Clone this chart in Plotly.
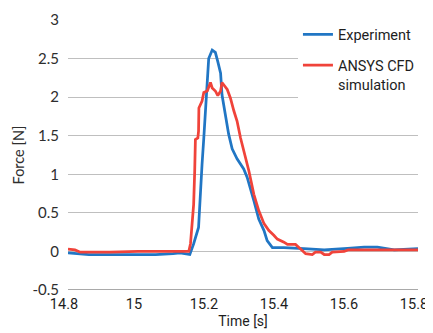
import plotly.graph_objects as go

# Experiment (blue)
exp_time = [14.80, 14.86, 14.96, 15.006, 15.05, 15.10, 15.12, 15.148, 15.159, 15.173,
            15.178, 15.183, 15.188, 15.193, 15.202, 15.212, 15.221, 15.228, 15.236, 15.240,
            15.250, 15.259, 15.269, 15.283, 15.302, 15.312, 15.331, 15.345, 15.360, 15.369,
            15.384, 15.417, 15.474, 15.532, 15.599, 15.646, 15.684, 15.732, 15.80]
exp_force = [-0.02, -0.04, -0.04, -0.04, -0.04, -0.03, -0.02, -0.04, 0.10, 0.31,
             0.79, 1.13, 1.47, 1.86, 2.50, 2.61, 2.58, 2.46, 2.31, 2.03,
             1.74, 1.52, 1.33, 1.20, 1.07, 0.96, 0.66, 0.42, 0.27, 0.14,
             0.05, 0.05, 0.035, 0.02, 0.04, 0.055, 0.055, 0.02, 0.035]

# ANSYS CFD simulation (red)
sim_time = [14.80, 14.82, 14.835, 14.92, 15.00, 15.145, 15.150, 15.154, 15.159, 15.162,
            15.164, 15.171, 15.173, 15.174, 15.183, 15.188, 15.198, 15.207, 15.212, 15.221,
            15.228, 15.236, 15.240, 15.255, 15.264, 15.274, 15.283, 15.293, 15.307, 15.317,
            15.331, 15.345, 15.360, 15.374, 15.388, 15.398, 15.417, 15.427, 15.450, 15.465,
            15.470, 15.479, 15.498, 15.507, 15.522, 15.532, 15.546, 15.555, 15.589, 15.60,
            15.80]
sim_force = [0.03, 0.02, -0.01, -0.01, 0.0, 0.0, 0.10, 0.31, 0.61, 1.04,
             1.45, 1.47, 1.56, 1.86, 1.95, 2.06, 2.08, 2.19, 2.12, 2.08,
             2.02, 2.08, 2.19, 2.10, 1.99, 1.82, 1.69, 1.47, 1.22, 1.04,
             0.74, 0.53, 0.36, 0.27, 0.21, 0.16, 0.12, 0.09, 0.09, 0.035,
             0.01, -0.03, -0.04, -0.01, -0.01, -0.04, -0.04, -0.01, 0.0, 0.02,
             0.02]

x_ticks = [14.8, 15.0, 15.2, 15.4, 15.6, 15.8]
x_labels = ["14.8", "15", "15.2", "15.4", "15.6", "15.8"]
y_ticks = [-0.5, 0, 0.5, 1, 1.5, 2, 2.5, 3]
y_labels = ["-0.5", "0", "0.5", "1", "1.5", "2", "2.5", "3"]

fig = go.Figure()
fig.add_trace(go.Scatter(x=exp_time, y=exp_force, mode="lines", name="Experiment",
                         legendgroup="a",
                         line=dict(color="#2176c4", width=2.75)))
fig.add_trace(go.Scatter(x=sim_time, y=sim_force, mode="lines", name="ANSYS CFD<br>simulation",
                         legendgroup="b",
                         line=dict(color="#f0433a", width=2.75)))

# page body adds 8px offset, so the figure is sized 425x325
fig.update_layout(
    width=425, height=325,
    margin=dict(l=60, r=15, t=10, b=43),
    paper_bgcolor="white", plot_bgcolor="white",
    font=dict(family="Roboto", size=14, color="#1e1e1e"),
    legend=dict(x=0.657, y=1.006, xanchor="left", yanchor="top",
                bgcolor="white", valign="top", tracegroupgap=9,
                font=dict(family="Roboto", size=14.5)),
    xaxis=dict(range=[14.8, 15.8], tickvals=x_ticks, ticktext=x_labels,
               showgrid=False, zeroline=False, showline=False, ticks="",
               automargin=False, ticklabelstandoff=3, ticklabelshift=-4,
               tickfont=dict(family="Roboto", size=14.5),
               title=dict(text="Time [s]", standoff=4,
                          font=dict(family="Roboto", size=14))),
    yaxis=dict(range=[-0.5, 3], tickvals=y_ticks, ticktext=y_labels,
               showgrid=True, gridcolor="#bfbfbf", gridwidth=1,
               zeroline=False, showline=False, ticks="",
               automargin=False, ticklabelstandoff=8,
               tickfont=dict(family="Lato", size=15, color="#2e2e2e"),
               title=dict(text="Force [N]", standoff=4,
                          font=dict(family="Lato", size=14.5, color="#2e2e2e"))),
)
fig.add_hline(y=-0.5, line=dict(color="#555555", width=1.2))

fig.write_html("out.html")
